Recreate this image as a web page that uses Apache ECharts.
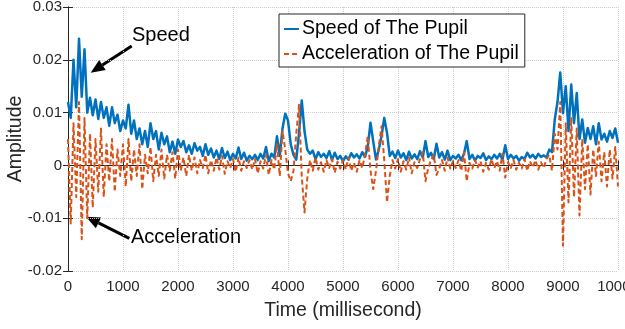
<!DOCTYPE html>
<html>
<head>
<meta charset="utf-8">
<script src="https://cdn.jsdelivr.net/npm/echarts@6/dist/echarts.min.js"></script>
<style>
html,body{margin:0;padding:0;background:#fff;}
#chart{width:625px;height:329px;}
</style>
</head>
<body>
<div id="chart"></div>
<script>
// samples every 50 ms, values in units of 0.001
var sampleStep = 50;

var speedVals = [
    12, 9, 20, 11, 24, 13, 22, 10, 12.8, 9.5,
    12.5, 8.8, 12, 9, 11, 7.5, 11, 8, 9.6, 6.5,
    8.5, 7, 11.5, 6, 8.5, 5, 7, 4, 6.5, 3.5,
    8, 5, 6.5, 3, 6.2, 4, 5.5, 2.5, 4.5, 2.2,
    4.9, 3.5, 4.6, 2.5, 3.8, 2.2, 4.2, 2.8, 3.5, 1.8,
    4.0, 2.0, 3.2, 1.5, 2.8, 1.2, 3.3, 1.4, 2.6, 1.0,
    2.2, 1.3, 3.4, 1.2, 2.4, 0.9, 1.8, 1.2, 2.0, 1.0,
    2.2, 1.3, 3.5, 0.8, 2.2, 1.5, 5.5, 1.8, 7.0, 9.8,
    8.5, 4.0, 2.0, 1.1, 6.0, 12.3, 6.5, 3.0, 2.2, 2.8,
    1.2, 2.5, 1.6, 2.2, 1.4, 2.7, 1.0, 2.4, 1.2, 1.8,
    0.8, 1.7, 1.1, 2.3, 1.5, 2.1, 1.3, 2.5, 1.6, 3.5,
    8.1, 4.5, 1.1, 3.0, 5.5, 9.0, 6.2, 1.8, 2.6, 1.4,
    2.8, 1.5, 2.3, 1.0, 2.6, 1.3, 2.1, 1.2, 2.7, 1.5,
    4.6, 1.6, 2.4, 1.2, 4.1, 1.5, 2.5, 1.1, 2.8, 1.0,
    1.8, 1.3, 2.0, 1.0, 2.2, 4.6, 1.2, 2.0, 0.9, 1.8,
    1.4, 2.3, 1.0, 1.7, 1.2, 2.0, 1.3, 2.2, 1.1, 3.8,
    1.2, 2.0, 1.3, 1.8, 0.9, 1.6, 1.2, 2.4, 1.5, 2.0,
    1.3, 2.2, 1.6, 1.9, 1.5, 3.0, 2.5, 8.7, 12.0, 17.6,
    9.9, 15.0, 6.5, 15.3, 8.0, 13.7, 5.0, 8.7, 4.3, 7.1,
    5.0, 7.4, 4.0, 8.0, 4.9, 6.0, 4.5, 6.5, 5.2, 7.0,
    4.3
];

var accelVals = [
    5, -11, 8, -6, 12, -14, 9, -10, 6, -8,
    5, -5, 7, -6, 4, -3, 5, -5, 3, -2,
    4, -4, 5, -3, 3, -2, 4, -4.5, 2, -1.5,
    3.5, -3, 2, -2, 3, -2.5, 2, -1, 2.5, -2.5,
    3, -1, 1.5, -2, 2, -1, 1.5, -1.5, 1, -0.5,
    2, -1.5, 1, -1, 1.5, -0.8, 1.8, -1.6, 0.8, -0.5,
    1.2, -1.2, 1.5, -1, 0.8, -0.5, 1, -0.8, 1.2, -1.5,
    0.8, -0.6, 2.0, -1.8, 1.0, -0.8, 4.0, -2.0, 6.5, 3.0,
    -1.5, -3.0, -1.0, 6.0, 11.5, -2.0, -8.9, -2.5, 1.0, -1.0,
    1.5, -0.8, 0.6, -1.2, 1.0, -0.5, 1.2, -1.4, 0.7, -0.6,
    1.0, -0.8, 1.5, -1.0, 0.5, -1.2, 1.0, -0.5, 2.0, 5.5,
    -1.0, -4.5, -1.0, 3.5, 7.4, 1.0, -7.0, -2.0, 1.0, -0.6,
    1.2, -1.2, 0.8, -0.8, 1.5, -1.5, 0.6, -0.5, 1.2, 2.5,
    -3.0, -0.5, 1.0, 2.0, -1.8, -0.6, 1.0, -1.0, 1.5, -0.6,
    0.8, -0.5, 1.0, -1.0, 2.5, -3.0, 0.5, -0.6, 1.0, -0.4,
    0.8, -1.2, 0.5, -0.8, 1.2, -0.5, 0.8, -1.0, 2.2, -2.3,
    0.6, -0.5, 1.0, -0.8, 0.5, -0.6, 1.2, -1.0, 0.8, -0.4,
    1.0, -0.8, 0.6, -0.5, 1.2, 2.0, -1.0, 6.0, 3.0, 12.0,
    -15.2, 8.0, -7.0, 9.0, -6.0, 7.0, -9.5, 5.0, -4.5, 4.0,
    -5.5, 3.0, -2.0, 4.5, -3.0, 2.5, -4.0, 3.0, -2.5, 3.5,
    -4.0
];

var seriesNames = ['Speed of The Pupil', 'Acceleration of The Pupil'];

function toPairs(vals){
    var out = [];
    for (var i = 0; i < vals.length; i++) {
        out.push([i * sampleStep, vals[i] / 1000]);
    }
    return out;
}

var chart = echarts.init(document.getElementById('chart'));
var axisColor = '#262626';
var fontFam = '"Liberation Sans", Arial, Helvetica, sans-serif';

// arrow pieces for the two annotations
function arrow(tail, tip){
    var dx = tip[0] - tail[0], dy = tip[1] - tail[1];
    var len = Math.sqrt(dx * dx + dy * dy);
    var ux = dx / len, uy = dy / len;
    var hl = 14, hw = 6;
    var bx = tip[0] - hl * ux, by = tip[1] - hl * uy;
    return [
        {type: 'line', shape: {x1: tail[0], y1: tail[1], x2: bx, y2: by},
         style: {stroke: '#000', lineWidth: 3}},
        {type: 'polygon', shape: {points: [tip, [bx - hw * uy, by + hw * ux], [bx + hw * uy, by - hw * ux]]},
         style: {fill: '#000'}}
    ];
}

var option = {
    animation: false,
    backgroundColor: '#fff',
    textStyle: {fontFamily: fontFam},
    grid: {left: 68, right: 7, top: 7, bottom: 58, show: false, outerBoundsMode: 'none', containLabel: false},
    legend: {
        orient: 'vertical',
        left: 279,
        top: 14,
        data: seriesNames,
        padding: [5, 6, 3, 4],
        itemGap: 5,
        itemWidth: 15,
        itemHeight: 14,
        itemStyle: {opacity: 0},
        borderColor: axisColor,
        borderWidth: 1,
        backgroundColor: '#fff',
        textStyle: {fontSize: 19.5, color: '#000', fontFamily: fontFam, padding: [0, 0, 0, -2]}
    },
    xAxis: [
        {
            type: 'value',
            min: 0, max: 10000, interval: 1000,
            name: 'Time (millisecond)',
            nameLocation: 'middle',
            nameGap: 30,
            nameTextStyle: {fontSize: 19.5, color: axisColor, fontFamily: fontFam},
            axisLine: {show: true, lineStyle: {color: axisColor}},
            axisTick: {inside: true, length: 5, lineStyle: {color: axisColor}},
            axisLabel: {fontSize: 15, color: axisColor, margin: 8, fontFamily: fontFam,
                alignMinLabel: 'center', alignMaxLabel: 'center',
                formatter: function (v) { return String(v); }},
            splitLine: {show: true, lineStyle: {color: '#cccccc', type: 'dotted'}}
        },
        {
            type: 'value', position: 'top',
            min: 0, max: 10000, interval: 1000,
            axisLine: {show: true, lineStyle: {color: axisColor}},
            axisTick: {inside: true, length: 5, lineStyle: {color: axisColor}},
            axisLabel: {show: false},
            splitLine: {show: false}
        }
    ],
    yAxis: [
        {
            type: 'value',
            min: -0.02, max: 0.03, interval: 0.01,
            name: 'Amplitude',
            nameLocation: 'middle',
            nameGap: 42,
            nameMoveOverlap: false,
            nameTextStyle: {fontSize: 19.5, color: axisColor, fontFamily: fontFam},
            axisLine: {show: true, lineStyle: {color: axisColor}},
            axisTick: {inside: true, length: 5, lineStyle: {color: axisColor}},
            axisLabel: {fontSize: 15, color: axisColor, margin: 6, fontFamily: fontFam},
            splitLine: {show: true, lineStyle: {color: '#cccccc', type: 'dotted'}}
        },
        {
            type: 'value', position: 'right',
            min: -0.02, max: 0.03, interval: 0.01,
            axisLine: {show: true, lineStyle: {color: axisColor}},
            axisTick: {inside: true, length: 5, lineStyle: {color: axisColor}},
            axisLabel: {show: false},
            splitLine: {show: false}
        }
    ],
    series: [
        {
            name: seriesNames[0],
            type: 'line',
            data: toPairs(speedVals),
            symbol: 'none',
            color: '#0072BD',
            lineStyle: {width: 2.5, color: '#0072BD', join: 'round'}
        },
        {
            name: seriesNames[1],
            type: 'line',
            data: toPairs(accelVals),
            symbol: 'none',
            color: '#D95319',
            lineStyle: {width: 2, color: '#D95319', type: [5, 3], join: 'round'}
        }
    ],
    graphic: [
        {type: 'text', left: 132, top: 25,
         style: {text: 'Speed', fontSize: 20, fill: '#000', fontFamily: fontFam}},
        {type: 'text', left: 131, top: 227,
         style: {text: 'Acceleration', fontSize: 20, fill: '#000', fontFamily: fontFam}}
    ].concat(arrow([131.7, 46], [90.7, 72.7]), arrow([129.3, 238.3], [86, 216.7]))
};

chart.setOption(option);
</script>
</body>
</html>
